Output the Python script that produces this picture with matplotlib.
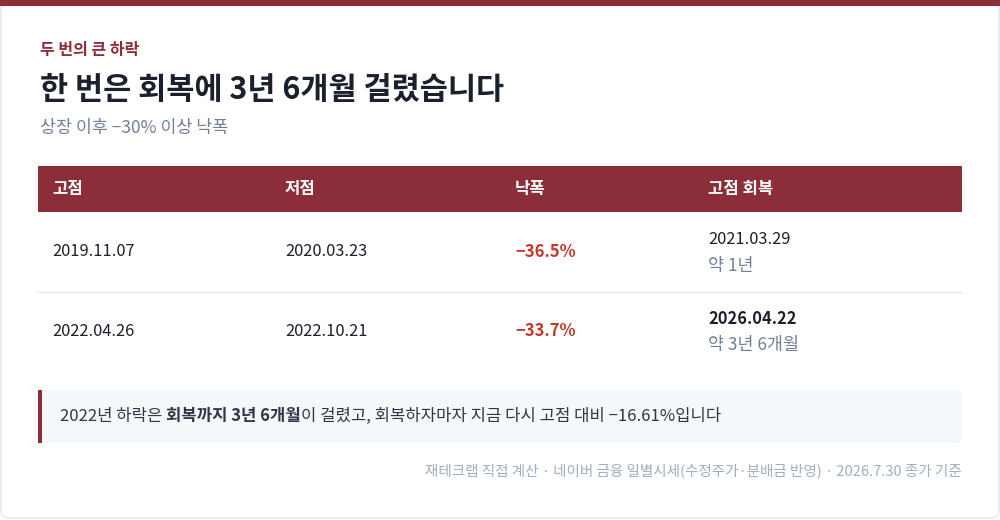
import matplotlib
matplotlib.use("Agg")
import matplotlib.pyplot as plt
from matplotlib.patches import Rectangle, FancyBboxPatch

plt.rcParams['font.family'] = ['Noto Sans CJK KR', 'DejaVu Sans']

peaks = ["2019.11.07", "2022.04.26"]
troughs = ["2020.03.23", "2022.10.21"]
drops = [-36.5, -33.7]
recovery_dates = ["2021.03.29", "2026.04.22"]
recovery_spans = ["약 1년", "약 3년 6개월"]
headers = ["고점", "저점", "낙폭", "고점 회복"]

RED = "#8B2E3A"
DARK = "#1a202c"
GRAY = "#718096"

fig = plt.figure(figsize=(10, 5.2), dpi=100)
ax = fig.add_axes([0, 0, 1, 1])
ax.set_xlim(0, 1000); ax.set_ylim(520, 0); ax.axis('off')

ax.add_patch(FancyBboxPatch((1, 1), 998, 517, boxstyle="round,pad=0,rounding_size=8",
                            fc="white", ec="#e2e8f0", lw=1))
ax.add_patch(Rectangle((0, 0), 1000, 6, fc=RED, ec="none"))

ax.text(40, 50, "두 번의 큰 하락", color=RED, fontsize=11.5, fontweight='bold', va='center')
ax.text(40, 90, "한 번은 회복에 3년 6개월 걸렸습니다", color=DARK, fontsize=22, fontweight='bold', va='center')
ax.text(40, 128, "상장 이후 −30% 이상 낙폭", color=GRAY, fontsize=12.5, va='center')

ax.add_patch(Rectangle((38, 166), 924, 46, fc=RED, ec="none"))
colx = [52, 285, 515, 708]
for x, h in zip(colx, headers):
    ax.text(x, 189, h, color="white", fontsize=12, fontweight='bold', va='center')

rowy = [252, 331]
for i in range(2):
    y = rowy[i]
    ax.text(colx[0], y, peaks[i], color=DARK, fontsize=11.8, va='center')
    ax.text(colx[1], y, troughs[i], color=DARK, fontsize=11.8, va='center')
    ax.text(colx[2], y, f"−{abs(drops[i]):.1f}%", color="#c0392b", fontsize=12, fontweight='bold', va='center')
    ax.text(colx[3], y - 12, recovery_dates[i], color=DARK, fontsize=11.8,
            fontweight='bold' if i == 1 else 'normal', va='center')
    ax.text(colx[3], y + 14, recovery_spans[i], color=GRAY, fontsize=12.5, va='center')
ax.plot([38, 962], [292, 292], color="#e2e8f0", lw=1)

ax.add_patch(FancyBboxPatch((38, 390), 924, 53, boxstyle="round,pad=0,rounding_size=6",
                            fc="#f5f8fb", ec="none"))
ax.add_patch(Rectangle((38, 390), 4, 53, fc=RED, ec="none"))

fig.canvas.draw()
r = fig.canvas.get_renderer()
parts = [("2022년 하락은 ", 'normal'), ("회복까지 3년 6개월", 'bold'),
         ("이 걸렸고, 회복하자마자 지금 다시 고점 대비 −16.61%입니다", 'normal')]
x = 60
inv = ax.transData.inverted()
for s, w in parts:
    t = ax.text(x, 416, s, color="#2d3748", fontsize=12, fontweight=w, va='center')
    bb = t.get_window_extent(r)
    x = inv.transform((bb.x1, bb.y0))[0]

ax.text(962, 471, "재테크랩 직접 계산 · 네이버 금융 일별시세(수정주가·분배금 반영) · 2026.7.30 종가 기준",
        color="#a0aec0", fontsize=10.5, ha='right', va='center')

fig.savefig("out.png", dpi=100)
